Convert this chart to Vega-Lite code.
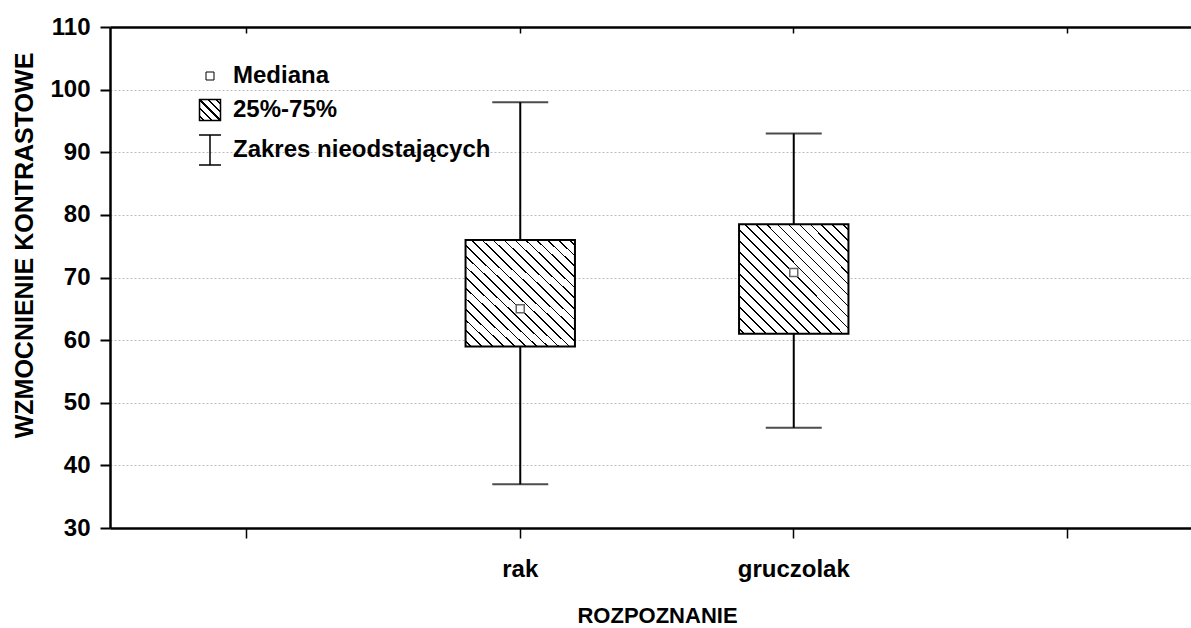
{
  "$schema": "https://vega.github.io/schema/vega-lite/v6.json",
  "width": 1081,
  "height": 501,
  "autosize": "none",
  "padding": {"left": 110, "top": 27, "right": 0, "bottom": 100},
  "background": "white",
  "config": {
    "font": "Liberation Sans",
    "view": {"stroke": null},
    "axis": {
      "domainColor": "black",
      "domainWidth": 2.5,
      "tickColor": "black",
      "labelColor": "black",
      "titleColor": "black",
      "labelFont": "Liberation Sans",
      "titleFont": "Liberation Sans",
      "labelFontWeight": "bold",
      "titleFontWeight": "bold"
    },
    "axisLeft": {
      "tickSize": 10,
      "tickWidth": 2,
      "labelFontSize": 24,
      "labelPadding": 10,
      "grid": true,
      "gridColor": "#bdbdbd",
      "gridDash": [2, 2],
      "gridWidth": 1,
      "titleFontSize": 25,
      "titleAngle": -90,
      "titleX": -77.7,
      "titleY": 218,
      "titleBaseline": "alphabetic",
      "titleAlign": "center"
    },
    "axisBottom": {
      "tickSize": 10,
      "tickWidth": 1.5,
      "labelFontSize": 24,
      "labelBaseline": "alphabetic",
      "labelPadding": 38.5,
      "titleFontSize": 22,
      "titleBaseline": "alphabetic",
      "titleX": 547,
      "titleY": 94,
      "grid": false,
      "bandPosition": 0.5
    },
    "axisTop": {
      "tickSize": -6,
      "tickWidth": 1.5,
      "labels": false,
      "grid": false,
      "bandPosition": 0.5
    },
    "legend": {
      "orient": "none",
      "legendX": 88,
      "legendY": 37,
      "padding": 0,
      "symbolSize": 900,
      "rowPadding": 8,
      "labelOffset": 11,
      "labelFont": "Liberation Sans",
      "labelFontSize": 24,
      "labelFontWeight": "bold",
      "labelColor": "black",
      "labelLimit": 400
    }
  },
  "data": {
    "values": [
      {"grupa": "rak", "min": 37, "q1": 59, "mediana": 65, "q3": 76, "max": 98},
      {"grupa": "gruczolak", "min": 46, "q1": 61, "mediana": 70.8, "q3": 78.5, "max": 93}
    ]
  },
  "resolve": {"axis": {"x": "independent"}},
  "layer": [
    {
      "mark": {"type": "rule", "color": "black", "strokeWidth": 2},
      "encoding": {
        "x": {
          "field": "grupa",
          "type": "nominal",
          "scale": {"domain": [" ", "rak", "gruczolak", "  "], "range": [0, 1094], "paddingInner": 0, "paddingOuter": 0},
          "axis": {"orient": "bottom", "title": "ROZPOZNANIE", "labelAngle": 0}
        },
        "y": {
          "field": "min",
          "type": "quantitative",
          "scale": {"domain": [30, 110], "nice": false, "zero": false},
          "axis": {"values": [30, 40, 50, 60, 70, 80, 90, 100, 110]},
          "title": "WZMOCNIENIE KONTRASTOWE"
        },
        "y2": {"field": "max"}
      }
    },
    {
      "mark": {
        "type": "bar",
        "width": {"band": 0.4},
        "stroke": "black",
        "strokeWidth": 2,
        "fill": {
          "gradient": "linear",
          "x1": 0, "y1": 1, "x2": 1, "y2": 0,
          "stops": [
            {"offset": 0, "color": "white"},
            {"offset": 0.021, "color": "white"}, {"offset": 0.021, "color": "black"}, {"offset": 0.029, "color": "black"}, {"offset": 0.029, "color": "white"},
            {"offset": 0.071, "color": "white"}, {"offset": 0.071, "color": "black"}, {"offset": 0.079, "color": "black"}, {"offset": 0.079, "color": "white"},
            {"offset": 0.121, "color": "white"}, {"offset": 0.121, "color": "black"}, {"offset": 0.129, "color": "black"}, {"offset": 0.129, "color": "white"},
            {"offset": 0.171, "color": "white"}, {"offset": 0.171, "color": "black"}, {"offset": 0.179, "color": "black"}, {"offset": 0.179, "color": "white"},
            {"offset": 0.221, "color": "white"}, {"offset": 0.221, "color": "black"}, {"offset": 0.229, "color": "black"}, {"offset": 0.229, "color": "white"},
            {"offset": 0.271, "color": "white"}, {"offset": 0.271, "color": "black"}, {"offset": 0.279, "color": "black"}, {"offset": 0.279, "color": "white"},
            {"offset": 0.321, "color": "white"}, {"offset": 0.321, "color": "black"}, {"offset": 0.329, "color": "black"}, {"offset": 0.329, "color": "white"},
            {"offset": 0.371, "color": "white"}, {"offset": 0.371, "color": "black"}, {"offset": 0.379, "color": "black"}, {"offset": 0.379, "color": "white"},
            {"offset": 0.421, "color": "white"}, {"offset": 0.421, "color": "black"}, {"offset": 0.429, "color": "black"}, {"offset": 0.429, "color": "white"},
            {"offset": 0.471, "color": "white"}, {"offset": 0.471, "color": "black"}, {"offset": 0.479, "color": "black"}, {"offset": 0.479, "color": "white"},
            {"offset": 0.521, "color": "white"}, {"offset": 0.521, "color": "black"}, {"offset": 0.529, "color": "black"}, {"offset": 0.529, "color": "white"},
            {"offset": 0.571, "color": "white"}, {"offset": 0.571, "color": "black"}, {"offset": 0.579, "color": "black"}, {"offset": 0.579, "color": "white"},
            {"offset": 0.621, "color": "white"}, {"offset": 0.621, "color": "black"}, {"offset": 0.629, "color": "black"}, {"offset": 0.629, "color": "white"},
            {"offset": 0.671, "color": "white"}, {"offset": 0.671, "color": "black"}, {"offset": 0.679, "color": "black"}, {"offset": 0.679, "color": "white"},
            {"offset": 0.721, "color": "white"}, {"offset": 0.721, "color": "black"}, {"offset": 0.729, "color": "black"}, {"offset": 0.729, "color": "white"},
            {"offset": 0.771, "color": "white"}, {"offset": 0.771, "color": "black"}, {"offset": 0.779, "color": "black"}, {"offset": 0.779, "color": "white"},
            {"offset": 0.821, "color": "white"}, {"offset": 0.821, "color": "black"}, {"offset": 0.829, "color": "black"}, {"offset": 0.829, "color": "white"},
            {"offset": 0.871, "color": "white"}, {"offset": 0.871, "color": "black"}, {"offset": 0.879, "color": "black"}, {"offset": 0.879, "color": "white"},
            {"offset": 0.921, "color": "white"}, {"offset": 0.921, "color": "black"}, {"offset": 0.929, "color": "black"}, {"offset": 0.929, "color": "white"},
            {"offset": 0.971, "color": "white"}, {"offset": 0.971, "color": "black"}, {"offset": 0.979, "color": "black"}, {"offset": 0.979, "color": "white"},
            {"offset": 1, "color": "white"}
          ]
        }
      },
      "encoding": {
        "x": {
          "field": "grupa",
          "type": "nominal",
          "scale": {"domain": [" ", "rak", "gruczolak", "  "], "range": [0, 1094], "paddingInner": 0, "paddingOuter": 0},
          "axis": null
        },
        "y": {
          "field": "q1",
          "type": "quantitative",
          "scale": {"domain": [30, 110], "nice": false, "zero": false},
          "axis": {"values": [30, 40, 50, 60, 70, 80, 90, 100, 110]},
          "title": "WZMOCNIENIE KONTRASTOWE"
        },
        "y2": {"field": "q3"}
      }
    },
    {
      "mark": {"type": "tick", "color": "black", "size": 56, "thickness": 2},
      "encoding": {
        "x": {
          "field": "grupa",
          "type": "nominal",
          "scale": {"domain": [" ", "rak", "gruczolak", "  "], "range": [0, 1094], "paddingInner": 0, "paddingOuter": 0},
          "axis": {"orient": "top", "title": null}
        },
        "y": {
          "field": "max",
          "type": "quantitative",
          "scale": {"domain": [30, 110], "nice": false, "zero": false},
          "axis": {"values": [30, 40, 50, 60, 70, 80, 90, 100, 110]},
          "title": "WZMOCNIENIE KONTRASTOWE"
        }
      }
    },
    {
      "mark": {"type": "tick", "color": "black", "size": 56, "thickness": 2},
      "encoding": {
        "x": {
          "field": "grupa",
          "type": "nominal",
          "scale": {"domain": [" ", "rak", "gruczolak", "  "], "range": [0, 1094], "paddingInner": 0, "paddingOuter": 0},
          "axis": null
        },
        "y": {
          "field": "min",
          "type": "quantitative",
          "scale": {"domain": [30, 110], "nice": false, "zero": false},
          "axis": {"values": [30, 40, 50, 60, 70, 80, 90, 100, 110]},
          "title": "WZMOCNIENIE KONTRASTOWE"
        }
      }
    },
    {
      "mark": {"type": "point", "filled": true, "fill": "white", "stroke": "#666666", "strokeWidth": 1.5, "size": 64, "opacity": 1},
      "encoding": {
        "x": {
          "field": "grupa",
          "type": "nominal",
          "scale": {"domain": [" ", "rak", "gruczolak", "  "], "range": [0, 1094], "paddingInner": 0, "paddingOuter": 0},
          "axis": null
        },
        "y": {
          "field": "mediana",
          "type": "quantitative",
          "scale": {"domain": [30, 110], "nice": false, "zero": false},
          "axis": {"values": [30, 40, 50, 60, 70, 80, 90, 100, 110]},
          "title": "WZMOCNIENIE KONTRASTOWE"
        },
        "shape": {
          "datum": "Mediana",
          "type": "nominal",
          "scale": {
            "domain": ["Mediana", "25%-75%", "Zakres nieodstających"],
            "range": ["square", "square", "M-0.73,-1H0.73M0,-1V1M-0.73,1H0.73"]
          },
          "legend": {
            "title": null,
            "encoding": {
              "symbols": {
                "fill": {"value": {"expr": "datum.value === '25%-75%' ? {gradient: 'linear', x1: 0, y1: 1, x2: 1, y2: 0, stops: [{offset: 0, color: 'white'}, {offset: 0.075, color: 'white'}, {offset: 0.075, color: 'black'}, {offset: 0.125, color: 'black'}, {offset: 0.125, color: 'white'}, {offset: 0.275, color: 'white'}, {offset: 0.275, color: 'black'}, {offset: 0.325, color: 'black'}, {offset: 0.325, color: 'white'}, {offset: 0.475, color: 'white'}, {offset: 0.475, color: 'black'}, {offset: 0.525, color: 'black'}, {offset: 0.525, color: 'white'}, {offset: 0.675, color: 'white'}, {offset: 0.675, color: 'black'}, {offset: 0.725, color: 'black'}, {offset: 0.725, color: 'white'}, {offset: 0.875, color: 'white'}, {offset: 0.875, color: 'black'}, {offset: 0.925, color: 'black'}, {offset: 0.925, color: 'white'}, {offset: 1, color: 'white'}]} : 'white'"}},
                "stroke": {"value": "black"},
                "strokeWidth": {"value": {"expr": "datum.value === 'Mediana' ? 1 : 1.5"}},
                "size": {"value": {"expr": "datum.value === 'Mediana' ? 64 : datum.value === '25%-75%' ? 441 : 900"}},
                "opacity": {"value": 1}
              }
            }
          }
        }
      }
    }
  ]
}
